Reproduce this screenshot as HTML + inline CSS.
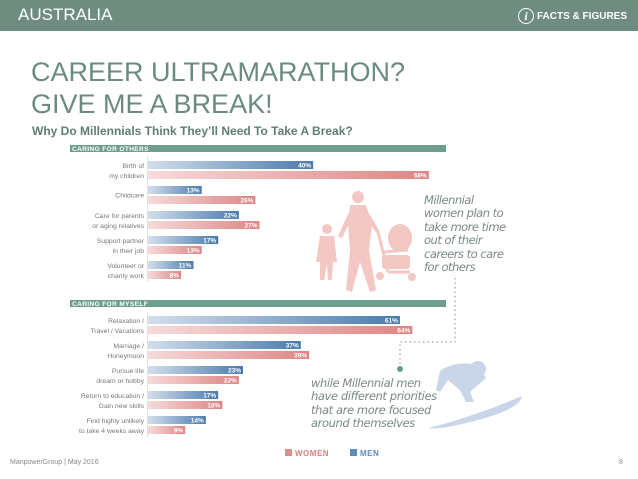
<!DOCTYPE html>
<html><head><meta charset="utf-8"><style>
body{margin:0;width:638px;height:479px;background:#fff;font-family:"Liberation Sans",sans-serif;position:relative;overflow:hidden}
.abs{position:absolute}
</style></head><body>
<div class="abs" style="left:0;top:0;width:638px;height:31px;background:#6e8d80"></div>
<div class="abs" style="left:18px;top:5px;color:#fff;font-size:17px">AUSTRALIA</div>
<div class="abs" style="left:518px;top:8px;color:#fff;font-size:10px;font-weight:bold;display:flex;align-items:center;gap:3px"><span style="display:inline-block;width:14px;height:14px;border:1.5px solid #fff;border-radius:50%;text-align:center;line-height:14px;font-style:italic;font-family:'Liberation Serif',serif;font-size:12px">i</span>FACTS &amp; FIGURES</div>
<div class="abs" style="left:31px;top:56px;color:#6b8a80;font-size:27px;line-height:32px">CAREER ULTRAMARATHON?<br>GIVE ME A BREAK!</div>
<div class="abs" style="left:32px;top:124px;color:#5f7d73;font-size:12px;font-weight:bold">Why Do Millennials Think They’ll Need To Take A Break?</div>
<svg class="abs" style="left:0;top:0" width="638" height="479" id="chart">
<defs>
<linearGradient id="gb" x1="0" x2="1"><stop offset="0" stop-color="#d3deec"/><stop offset="1" stop-color="#4a7bad"/></linearGradient>
<linearGradient id="gp" x1="0" x2="1"><stop offset="0" stop-color="#f6dada"/><stop offset="1" stop-color="#de8585"/></linearGradient>
</defs>
<g fill="#f3c8c4">
<circle cx="358" cy="197" r="6"/>
<path d="M350 205 L366 205 L372 225 L369 250 L376 290 L370 292 L360 262 L352 292 L346 290 L350 250 L348 225 Z"/>
<path d="M366 208 L380 232 L378 235 L362 214Z"/>
<path d="M350 210 L338 236 L342 238 L352 218Z"/>
<circle cx="327" cy="229" r="5"/>
<path d="M320 236 L334 236 L337 262 L333 262 L332 280 L328 280 L327 264 L324 280 L320 280 L320 262 L316 262Z"/>
<path d="M378 232 L388 272 M384 252 L408 250 M388 272 L410 272" stroke="#f3c8c4" stroke-width="3" fill="none"/>
<ellipse cx="400" cy="238" rx="12" ry="14"/>
<rect x="382" y="255" width="28" height="14" rx="3"/>
<circle cx="380" cy="276" r="4"/><circle cx="412" cy="277" r="4"/>
</g>
<g fill="#c9d5e8">
<circle cx="478" cy="369" r="8"/>
<path d="M440 371 Q455 360 478 365 L486 378 L470 392 L474 402 L466 402 L460 390 L448 380 L440 392 L436 390Z"/>
<path d="M428 428 Q470 418 522 396 Q520 410 470 422 Q440 430 428 428Z"/>
</g>
<g stroke="#7f8f8a" stroke-dasharray="1.5,3" fill="none">
<path d="M455 278 L455 342 L400 342 L400 366"/>
</g>
<circle cx="400" cy="369" r="3" fill="#6a9c89"/>
</svg>
<div class="abs" style="left:424px;top:194px;color:#7a8a86;font-size:11.5px;font-style:italic;line-height:13.4px;font-family:'DejaVu Sans',sans-serif;letter-spacing:-0.5px">Millennial<br>women plan to<br>take more time<br>out of their<br>careers to care<br>for others</div>
<div class="abs" style="left:311px;top:377px;color:#7a8a86;font-size:11.5px;font-style:italic;line-height:13.4px;font-family:'DejaVu Sans',sans-serif;letter-spacing:-0.4px">while Millennial men<br>have different priorities<br>that are more focused<br>around themselves</div>
<div class="abs" style="left:285px;top:449px;font-size:8px;color:#d9807f;font-weight:bold;letter-spacing:0.5px"><span style="display:inline-block;width:7px;height:7px;background:#e08a8a;margin-right:3px"></span>WOMEN</div>
<div class="abs" style="left:350px;top:449px;font-size:8px;color:#5b8bbf;font-weight:bold;letter-spacing:0.5px"><span style="display:inline-block;width:7px;height:7px;background:#5b8bbf;margin-right:3px"></span>MEN</div>
<div class="abs" style="left:10px;top:459px;font-size:7px;color:#888">ManpowerGroup | May 2016</div>
<div class="abs" style="left:619px;top:459px;font-size:7px;color:#888">8</div>
<script>
const others = ["Birth of|my children","Childcare","Care for parents|or aging relatives","Support partner|in their job","Volunteer or|charity work"];
const othersMen = [40,13,22,17,11];
const othersWomen = [68,26,27,13,8];
const myself = ["Relaxation /|Travel / Vacations","Marriage /|Honeymoon","Pursue life|dream or hobby","Return to education /|Gain new skills","Find highly unlikely|to take 4 weeks away"];
const myselfMen = [61,37,23,17,14];
const myselfWomen = [64,39,22,18,9];
const sections = ["CARING FOR OTHERS","CARING FOR MYSELF"];
const svg = document.getElementById('chart');
const NS = "http://www.w3.org/2000/svg";
const x0 = 148, pxPer = 4.13;
function xs(v){return v*pxPer;}
function mk(tag,attrs){const e=document.createElementNS(NS,tag);for(const k in attrs)e.setAttribute(k,attrs[k]);svg.appendChild(e);return e;}
function drawSection(title, cats, men, women, top){
  const h = mk('rect',{x:70,y:top,width:376,height:7,fill:'#6e9e8c'});
  
  
  const ht = mk('text',{x:72,y:top+6,'font-size':6.5,'font-weight':'bold',fill:'#fff','font-family':'Liberation Sans, sans-serif','letter-spacing':'0.4'});
  ht.textContent = title;
  
  
  const ax = mk('line',{x1:x0-0.5,x2:x0-0.5,y1:top+12,y2:top+12+cats.length*25,stroke:'#ccc','stroke-width':0.6});
  
  
  cats.forEach((c,i)=>{
    const y = top+16+i*25;
    const b = mk('rect',{x:x0,y:y,width:xs(men[i]),height:8,fill:'url(#gb)'});
    
    
    const p = mk('rect',{x:x0,y:y+10,width:xs(women[i]),height:8,fill:'url(#gp)'});
    
    
    const t1 = mk('text',{x:x0+xs(men[i])-2,y:y+6.5,'font-size':6.5,'font-weight':'bold',fill:'#fff','text-anchor':'end','font-family':'Liberation Sans, sans-serif'});
    t1.textContent = men[i]+'%';
    
    
    const t2 = mk('text',{x:x0+xs(women[i])-2,y:y+16.5,'font-size':6.5,'font-weight':'bold',fill:'#fff','text-anchor':'end','font-family':'Liberation Sans, sans-serif'});
    t2.textContent = women[i]+'%';
    
    
    const lines = c.split('|');
    const startY = lines.length===1 ? y+11.5 : y+7;
    lines.forEach((ln,j)=>{
      const l = mk('text',{x:x0-4,y:startY+j*10,'font-size':6.8,fill:'#777','text-anchor':'end','font-family':'Liberation Sans, sans-serif'});
      l.textContent = ln;
      
      
    });
  });
}
drawSection(sections[0], others, othersMen, othersWomen, 145);
drawSection(sections[1], myself, myselfMen, myselfWomen, 300);
</script>
</body></html>
